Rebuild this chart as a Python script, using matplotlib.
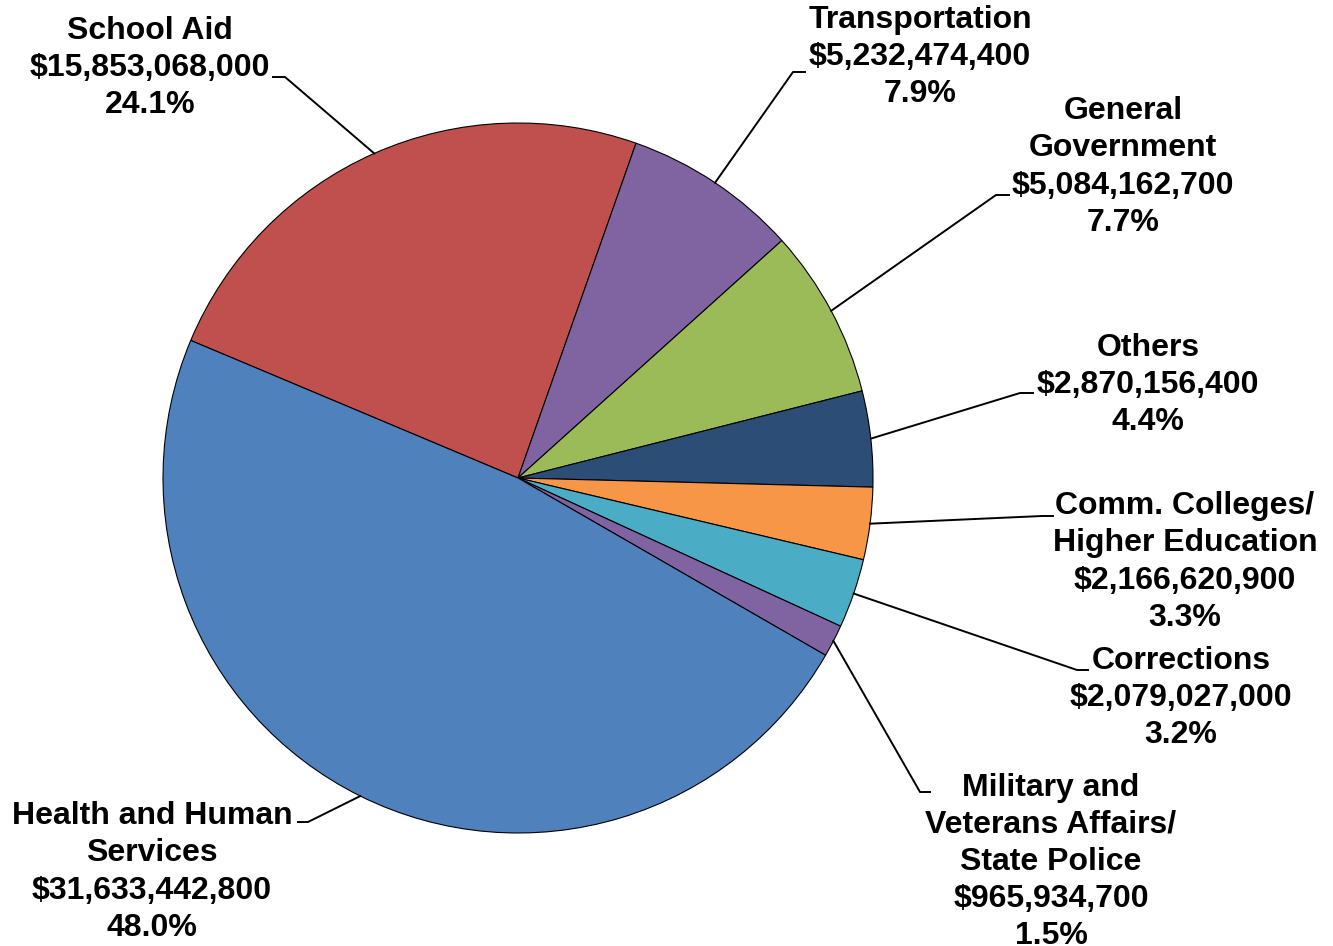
import numpy as np
import matplotlib
matplotlib.use('Agg')
import matplotlib.pyplot as plt

plt.rcParams['font.family'] = ['Liberation Sans', 'DejaVu Sans']

# budget by area, clockwise from the top-left slice
names = ['School Aid', 'Transportation', 'General\nGovernment', 'Others',
         'Comm. Colleges/\nHigher Education', 'Corrections',
         'Military and\nVeterans Affairs/\nState Police',
         'Health and Human\nServices']
amounts = [15853068000, 5232474400, 5084162700, 2870156400,
           2166620900, 2079027000, 965934700, 31633442800]
colors = ['#C0504D', '#8064A2', '#9BBB59', '#2C4D75',
          '#F79646', '#4BACC6', '#8064A2', '#4F81BD']

# label layout in pixels: text centre, elbow of leader, end of leader
text_xy = [(150, 68), (920, 57), (1123, 167), (1148, 385),
           (1185, 562), (1181, 698), (1051, 862), (152, 872)]
elbow_xy = [(285, 77), (793, 72), (996, 195), (1020, 393),
            (1042, 516), (1077, 670), (920, 792), (308, 822)]
end_xy = [(273, 77), (805, 72), (1009, 195), (1033, 393),
          (1053, 516), (1088, 670), (930, 792), (298, 822)]

W, H = 1333, 946
cx, cy, R = 518, 478, 355


def to_data(p):
    return (p[0] - cx) / R, (cy - p[1]) / R


fig = plt.figure(figsize=(W / 100, H / 100), dpi=100)
ax = fig.add_axes([(cx - R) / W, (H - cy - R) / H, 2 * R / W, 2 * R / H])

total = float(sum(amounts))
start = 157.2
wedges, _ = ax.pie(amounts, colors=colors, startangle=start, counterclock=False,
                   radius=1.0, wedgeprops=dict(edgecolor='black', linewidth=0.8))
ax.set_xlim(-1, 1)
ax.set_ylim(-1, 1)
ax.axis('off')

for w, name, amt, t, e, n in zip(wedges, names, amounts, text_xy, elbow_xy, end_xy):
    mid = np.deg2rad((w.theta1 + w.theta2) / 2.0)
    x0, y0 = np.cos(mid), np.sin(mid)
    ex, ey = to_data(e)
    nx, ny = to_data(n)
    ax.plot([x0, ex, nx], [y0, ey, ny], color='black', lw=1.4, clip_on=False)
    label = '%s\n$%s\n%.1f%%' % (name, format(amt, ','), amt / total * 100)
    tx, ty = to_data(t)
    ax.text(tx, ty, label, ha='center', va='center', fontsize=23,
            fontweight='bold', linespacing=1.31, clip_on=False)

plt.savefig('out.png', dpi=100)
